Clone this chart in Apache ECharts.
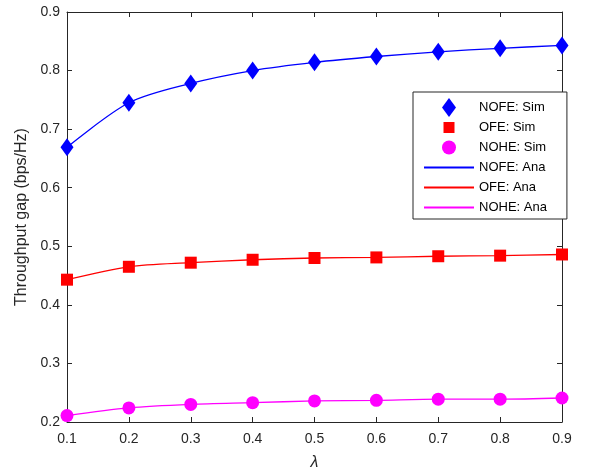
<!DOCTYPE html>
<html>
<head>
<meta charset="utf-8">
<script src="https://cdn.jsdelivr.net/npm/echarts@6/dist/echarts.min.js"></script>
<style>
  html, body { margin: 0; padding: 0; background: #fff; }
  #gap { width: 611px; height: 476px; }
</style>
</head>
<body>
<div id="gap"></div>
<script>
// lambda values on the x axis
var lambdas = [0.1, 0.2, 0.3, 0.4, 0.5, 0.6, 0.7, 0.8, 0.9];
// throughput gap
var nofe = [0.669, 0.745, 0.778, 0.800, 0.814, 0.824, 0.832, 0.838, 0.843];
var ofe  = [0.443, 0.465, 0.472, 0.477, 0.480, 0.481, 0.483, 0.484, 0.486];
var nohe = [0.211, 0.224, 0.230, 0.233, 0.236, 0.237, 0.239, 0.239, 0.241];

var font = 'Liberation Sans';
var axisCol = '#262626';

function pairs(ys) {
    var out = [];
    for (var i = 0; i < lambdas.length; i++) out.push([lambdas[i], ys[i]]);
    return out;
}

var myChart = echarts.init(document.getElementById('gap'));

var option = {
    backgroundColor: '#fff',
    animation: false,
    grid: { left: 67, top: 12, right: 49, bottom: 52 },
    legend: {
        orient: 'vertical',
        left: 413,
        top: 92,
        padding: [6, 20, 2, 10],
        itemWidth: 50,
        itemHeight: 19,
        itemGap: 1,
        borderColor: '#262626',
        borderWidth: 1,
        backgroundColor: '#fff',
        textStyle: { fontFamily: font, fontSize: 13, color: '#000', lineHeight: 19 },
        data: [
            // boxed icons: the extra move-to points keep the glyph smaller than the row
            { name: 'NOFE: Sim', icon: 'path://M7,0L14,9.5L7,19L0,9.5Z' },
            { name: 'OFE: Sim', icon: 'path://M0,0M19,19M4,4L15,4L15,15L4,15Z' },
            { name: 'NOHE: Sim', icon: 'path://M0,0M19,19M2.5,9.5A7,7,0,1,1,16.5,9.5A7,7,0,1,1,2.5,9.5Z' },
            { name: 'NOFE: Ana', itemStyle: { opacity: 0 } },
            { name: 'OFE: Ana', itemStyle: { opacity: 0 } },
            { name: 'NOHE: Ana', itemStyle: { opacity: 0 } }
        ]
    },
    xAxis: [{
        type: 'value',
        min: 0.1, max: 0.9, interval: 0.1,
        name: 'λ',
        nameLocation: 'middle',
        nameGap: 33,
        nameTextStyle: { fontFamily: font, fontSize: 16, fontStyle: 'italic', color: axisCol },
        axisLine: { lineStyle: { color: axisCol, width: 1 } },
        axisTick: { inside: true, length: 5, lineStyle: { color: axisCol } },
        axisLabel: { fontFamily: font, fontSize: 14, color: axisCol, margin: 10 },
        splitLine: { show: false }
    }, {
        type: 'value',
        position: 'top',
        min: 0.1, max: 0.9, interval: 0.1,
        axisLine: { lineStyle: { color: axisCol, width: 1 } },
        axisTick: { inside: true, length: 5, lineStyle: { color: axisCol } },
        axisLabel: { show: false },
        splitLine: { show: false }
    }],
    yAxis: [{
        type: 'value',
        min: 0.2, max: 0.9, interval: 0.1,
        name: 'Throughput gap (bps/Hz)',
        nameLocation: 'middle',
        nameGap: 35,
        nameTextStyle: { fontFamily: font, fontSize: 16, color: axisCol },
        axisLine: { show: true, lineStyle: { color: axisCol, width: 1 } },
        axisTick: { show: true, inside: true, length: 5, lineStyle: { color: axisCol } },
        axisLabel: { fontFamily: font, fontSize: 14, color: axisCol, margin: 7 },
        splitLine: { show: false }
    }, {
        type: 'value',
        position: 'right',
        min: 0.2, max: 0.9, interval: 0.1,
        axisLine: { show: true, lineStyle: { color: axisCol, width: 1 } },
        axisTick: { show: true, inside: true, length: 5, lineStyle: { color: axisCol } },
        axisLabel: { show: false },
        splitLine: { show: false }
    }],
    series: [{
        name: 'NOFE: Sim', type: 'scatter', z: 5,
        symbol: 'diamond', symbolSize: [13, 18],
        itemStyle: { color: '#0000ff', opacity: 1 },
        data: pairs(nofe)
    }, {
        name: 'OFE: Sim', type: 'scatter', z: 5,
        symbol: 'rect', symbolSize: 12,
        itemStyle: { color: '#ff0000', opacity: 1 },
        data: pairs(ofe)
    }, {
        name: 'NOHE: Sim', type: 'scatter', z: 5,
        symbol: 'circle', symbolSize: 13,
        itemStyle: { color: '#ff00ff', opacity: 1 },
        data: pairs(nohe)
    }, {
        name: 'NOFE: Ana', type: 'line', z: 3,
        symbol: 'none', smooth: 0.3,
        lineStyle: { color: '#0000ff', width: 1.3 },
        itemStyle: { color: '#0000ff' },
        data: pairs(nofe)
    }, {
        name: 'OFE: Ana', type: 'line', z: 3,
        symbol: 'none', smooth: 0.3,
        lineStyle: { color: '#ff0000', width: 1.3 },
        itemStyle: { color: '#ff0000' },
        data: pairs(ofe)
    }, {
        name: 'NOHE: Ana', type: 'line', z: 3,
        symbol: 'none', smooth: 0.3,
        lineStyle: { color: '#ff00ff', width: 1.3 },
        itemStyle: { color: '#ff00ff' },
        data: pairs(nohe)
    }]
};
myChart.setOption(option);
</script>
</body>
</html>
